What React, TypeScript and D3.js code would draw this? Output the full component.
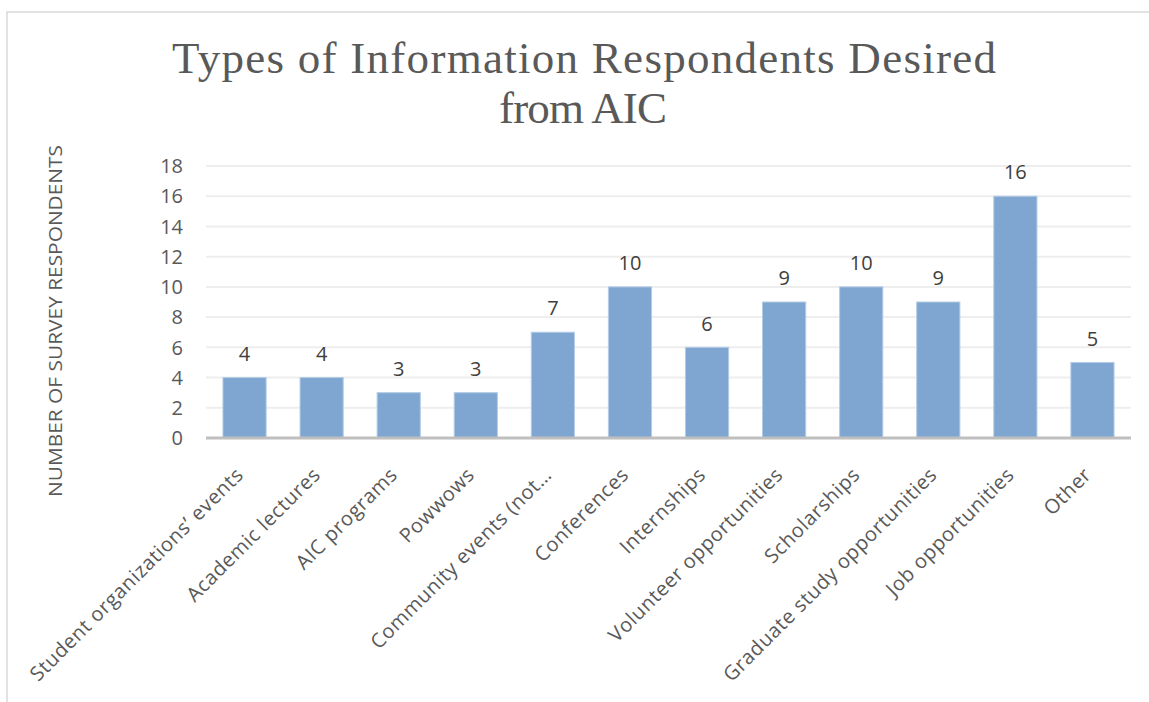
import React from "react";
import * as d3 from "d3";

const categories = [
  "Student organizations’ events",
  "Academic lectures",
  "AIC programs",
  "Powwows",
  "Community events (not…",
  "Conferences",
  "Internships",
  "Volunteer opportunities",
  "Scholarships",
  "Graduate study opportunities",
  "Job opportunities",
  "Other",
];
const values = [4, 4, 3, 3, 7, 10, 6, 9, 10, 9, 16, 5];
const yTicks = [0, 2, 4, 6, 8, 10, 12, 14, 16, 18];
const titleLines = ["Types of Information Respondents Desired", "from AIC"];
const yAxisTitle = "NUMBER OF SURVEY RESPONDENTS";

const W = 1149;
const H = 702;
const plot = { left: 206, right: 1131, top: 166, bottom: 438 };

export default function App() {
  const x = d3
    .scaleBand<string>()
    .domain(categories)
    .range([plot.left, plot.right])
    .paddingInner(0.44)
    .paddingOuter(0.22);
  const y = d3.scaleLinear().domain([0, 18]).range([plot.bottom, plot.top]);
  const sans = "'Open Sans', 'DejaVu Sans', sans-serif";
  const serif = "'Liberation Serif', 'DejaVu Serif', serif";

  return (
    <svg
      width={W}
      height={H}
      style={{ position: "absolute", left: 0, top: 0, background: "#fff" }}
    >
      <rect x={7} y={12} width={W + 10} height={H + 10} fill="#fff" stroke="#d9d9d9" strokeWidth={1.5} />
      <text
        x={584}
        y={73}
        textAnchor="middle"
        fontFamily={serif}
        fontSize={45}
        fill="#595959"
        textLength={824}
        lengthAdjust="spacing"
      >
        {titleLines[0]}
      </text>
      <text
        x={583}
        y={123}
        textAnchor="middle"
        fontFamily={serif}
        fontSize={45}
        fill="#595959"
        textLength={168}
        lengthAdjust="spacing"
      >
        {titleLines[1]}
      </text>

      {yTicks.map((t) => (
        <g key={t}>
          {t !== 0 && (
            <line x1={plot.left} x2={plot.right} y1={y(t)} y2={y(t)} stroke="#eeeeee" strokeWidth={2} />
          )}
          <text
            x={183}
            y={y(t)}
            dy="0.36em"
            textAnchor="end"
            fontFamily={sans}
            fontSize={20}
            fill="#595959"
          >
            {t}
          </text>
        </g>
      ))}

      <text
        transform={`translate(62,${321}) rotate(-90)`}
        textAnchor="middle"
        fontFamily={sans}
        fontSize={18}
        fill="#595959"
        textLength={352}
        lengthAdjust="spacingAndGlyphs"
      >
        {yAxisTitle}
      </text>

      {categories.map((c, i) => (
        <g key={c}>
          <rect
            x={x(c)!}
            y={y(values[i])}
            width={x.bandwidth()}
            height={y(0) - y(values[i])}
            fill="#7fa6d0"
            stroke="#b4cbe6"
            strokeWidth={1}
          />
          <text
            x={x(c)! + x.bandwidth() / 2}
            y={y(values[i]) - 24}
            dy="0.36em"
            textAnchor="middle"
            fontFamily={sans}
            fontSize={20}
            fill="#404040"
          >
            {values[i]}
          </text>
          <text
            transform={`translate(${x(c)! + x.bandwidth() / 2},${476}) rotate(-45)`}
            textAnchor="end"
            fontFamily={sans}
            fontSize={20}
            letterSpacing={0.6}
            fill="#595959"
          >
            {c}
          </text>
        </g>
      ))}

      <line x1={plot.left} x2={plot.right} y1={y(0)} y2={y(0)} stroke="#bfbfbf" strokeWidth={3} />
    </svg>
  );
}
